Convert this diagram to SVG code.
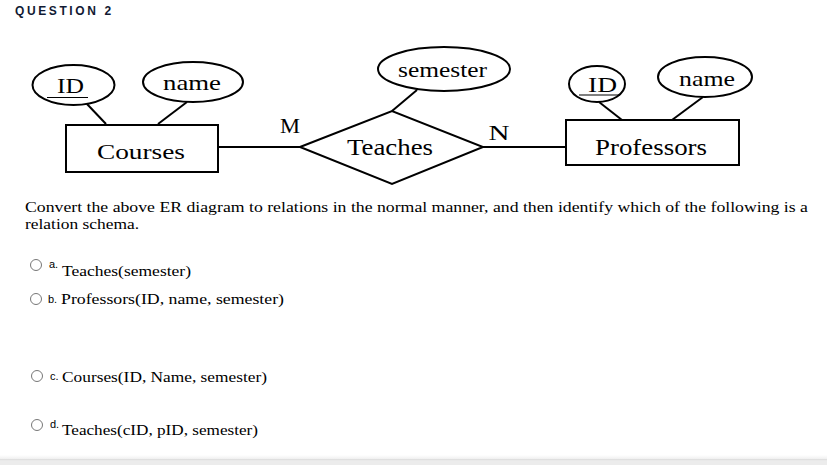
<svg xmlns="http://www.w3.org/2000/svg" width="827" height="465" viewBox="0 0 827 465">
<defs>
<linearGradient id="bar" x1="0" y1="0" x2="0" y2="1">
<stop offset="0" stop-color="#ffffff"/>
<stop offset="1" stop-color="#ececec"/>
</linearGradient>
</defs>
<style>
.shape{fill:#fff;stroke:#000;stroke-width:2}
.line{stroke:#000;stroke-width:2;fill:none}
.er{font-family:"Liberation Serif","DejaVu Serif",serif;fill:#000;text-anchor:middle}
.body{font-family:"Liberation Serif","DejaVu Serif",serif;fill:#000;font-size:15px}
.lbl{font-family:"Liberation Sans",Arial,sans-serif;fill:#000;font-size:11px}
.radio{fill:#fff;stroke:#777;stroke-width:1}
</style>
<rect width="827" height="465" fill="#fff"/>
<text x="15" y="15" font-family="Liberation Sans,Arial,sans-serif" font-weight="bold" font-size="12" letter-spacing="2.6" fill="#111a33">QUESTION 2</text>

<g id="connectors">
<line class="line" x1="87" y1="104" x2="106" y2="124"/>
<line class="line" x1="187" y1="102" x2="158" y2="124"/>
<line class="line" x1="218" y1="147" x2="300" y2="147"/>
<line class="line" x1="392" y1="111" x2="417" y2="90"/>
<line class="line" x1="483" y1="147" x2="566" y2="147"/>
<line class="line" x1="599" y1="102" x2="622" y2="120"/>
<line class="line" x1="703" y1="97" x2="672" y2="120"/>
<text class="er" x="290" y="133" font-size="22" textLength="20" lengthAdjust="spacingAndGlyphs">M</text>
<text class="er" x="499" y="140" font-size="22" textLength="21" lengthAdjust="spacingAndGlyphs">N</text>
</g>

<g id="courses-id">
<ellipse class="shape" cx="73.5" cy="85" rx="41" ry="20"/>
<text class="er" x="70.5" y="93" font-size="22" textLength="27" lengthAdjust="spacingAndGlyphs">ID</text>
<line x1="47" y1="97.5" x2="88" y2="97.5" stroke="#000" stroke-width="1"/>
</g>
<g id="courses-name">
<ellipse class="shape" cx="193" cy="82" rx="50" ry="20"/>
<text class="er" x="192" y="90" font-size="22" textLength="58" lengthAdjust="spacingAndGlyphs">name</text>
</g>
<g id="courses">
<rect class="shape" x="66" y="125" width="152" height="47"/>
<text class="er" x="141" y="159" font-size="22" textLength="88" lengthAdjust="spacingAndGlyphs">Courses</text>
</g>
<g id="teaches">
<polygon class="shape" points="300,147 392,111 483,147 392,184"/>
<text class="er" x="390" y="155" font-size="24" textLength="86" lengthAdjust="spacingAndGlyphs">Teaches</text>
</g>
<g id="teaches-semester">
<ellipse class="shape" cx="444" cy="69" rx="66" ry="22"/>
<text class="er" x="442.5" y="77" font-size="22" textLength="89" lengthAdjust="spacingAndGlyphs">semester</text>
</g>
<g id="professors">
<rect class="shape" x="566" y="120" width="173" height="45"/>
<text class="er" x="651" y="155" font-size="23" textLength="112" lengthAdjust="spacingAndGlyphs">Professors</text>
</g>
<g id="professors-id">
<ellipse class="shape" cx="597" cy="84" rx="28" ry="18"/>
<text class="er" x="602.5" y="92" font-size="22" textLength="29" lengthAdjust="spacingAndGlyphs">ID</text>
<line x1="579" y1="95" x2="620" y2="95" stroke="#000" stroke-width="1"/>
</g>
<g id="professors-name">
<ellipse class="shape" cx="705" cy="77" rx="47" ry="20"/>
<text class="er" x="707" y="86" font-size="22" textLength="56" lengthAdjust="spacingAndGlyphs">name</text>
</g>

<text class="body" x="25" y="212" textLength="783" lengthAdjust="spacingAndGlyphs">Convert the above ER diagram to relations in the normal manner, and then identify which of the following is a</text>
<text class="body" x="25" y="229" textLength="114" lengthAdjust="spacingAndGlyphs">relation schema.</text>

<circle class="radio" cx="36" cy="265" r="5.5"/>
<text class="lbl" x="49" y="268">a.</text>
<text class="body" x="62" y="276" textLength="129" lengthAdjust="spacingAndGlyphs">Teaches(semester)</text>

<circle class="radio" cx="36" cy="299" r="5.5"/>
<text class="lbl" x="48" y="303">b.</text>
<text class="body" x="61" y="304" textLength="223" lengthAdjust="spacingAndGlyphs">Professors(ID, name,  semester)</text>

<circle class="radio" cx="37" cy="376" r="5.5"/>
<text class="lbl" x="50" y="380">c.</text>
<text class="body" x="62" y="382" textLength="205" lengthAdjust="spacingAndGlyphs">Courses(ID, Name, semester)</text>

<circle class="radio" cx="37" cy="425" r="5.5"/>
<text class="lbl" x="50" y="428">d.</text>
<text class="body" x="62" y="435" textLength="196" lengthAdjust="spacingAndGlyphs">Teaches(cID, pID, semester)</text>

<rect x="0" y="455" width="827" height="5" fill="url(#bar)"/>
<rect x="0" y="459.5" width="827" height="1" fill="#cfcfcf"/>
<rect x="0" y="460.5" width="827" height="5" fill="#ececec"/>
</svg>
